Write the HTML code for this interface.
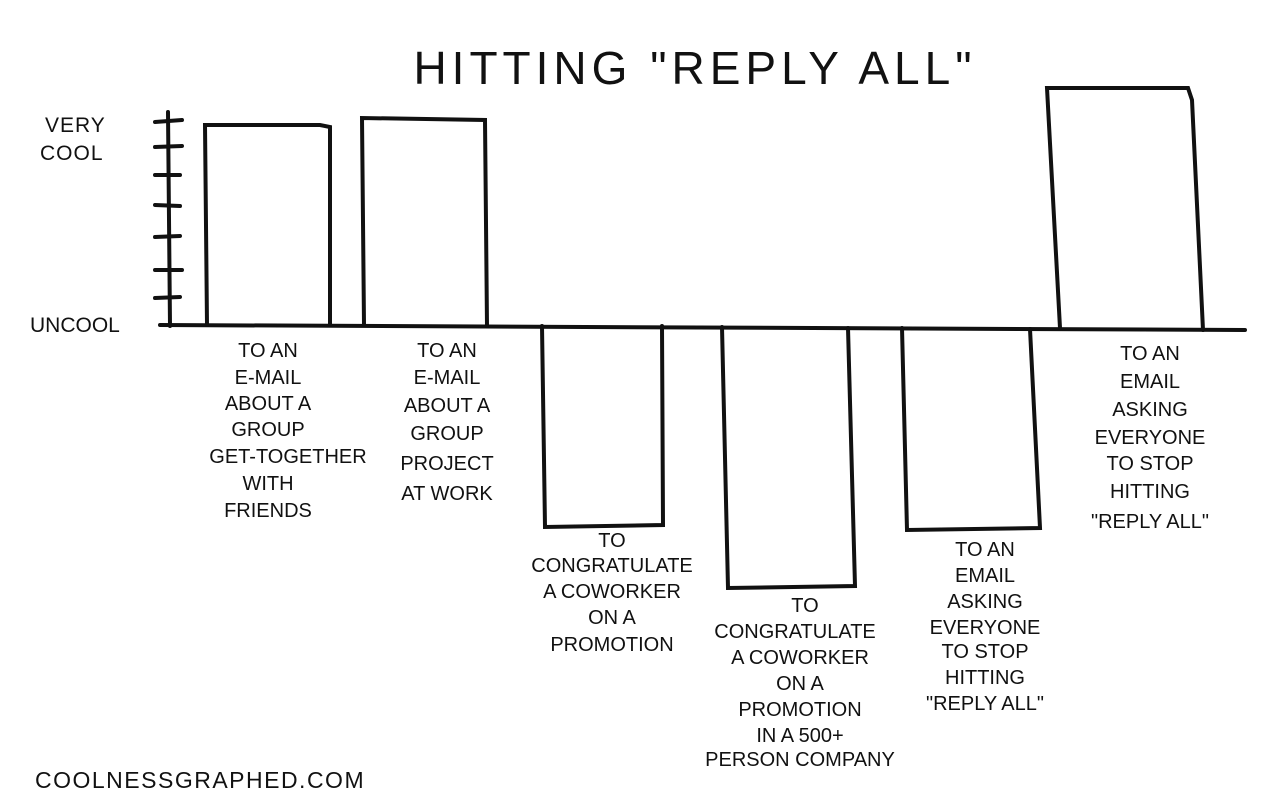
<!DOCTYPE html>
<html><head><meta charset="utf-8"><style>
html,body{margin:0;padding:0;background:#fff;}
svg{display:block;}
text{font-family:"Liberation Sans",sans-serif;fill:#111;}
.l{font-size:20px;text-anchor:middle;}
</style></head><body>
<svg width="1273" height="800" viewBox="0 0 1273 800">
<text x="695" y="84" font-size="46" text-anchor="middle" letter-spacing="5">HITTING "REPLY ALL"</text>
<g stroke="#111" stroke-width="4" fill="none" stroke-linecap="round">
<line x1="168" y1="112" x2="170" y2="326"/>
<line x1="160" y1="325" x2="1245" y2="330"/>
<line x1="155" y1="122" x2="182" y2="120"/>
<line x1="155" y1="147" x2="182" y2="146"/>
<line x1="155" y1="175" x2="180" y2="175"/>
<line x1="155" y1="205" x2="180" y2="206"/>
<line x1="155" y1="237" x2="180" y2="236"/>
<line x1="155" y1="270" x2="182" y2="270"/>
<line x1="155" y1="298" x2="180" y2="297"/>
<path d="M207 325 L205 125 L320 125 L330 127 L330 325"/>
<path d="M364 325 L362 118 L485 120 L487 326"/>
<path d="M542 326 L545 527 L663 525 L662 326"/>
<path d="M722 327 L728 588 L855 586 L848 328"/>
<path d="M902 328 L907 530 L1040 528 L1030 329"/>
<path d="M1060 328 L1047 88 L1188 88 L1192 100 L1203 330"/>
</g>
<text x="45" y="132" font-size="21" letter-spacing="1">VERY</text>
<text x="40" y="160" font-size="21" letter-spacing="1">COOL</text>
<text x="30" y="332" font-size="21">UNCOOL</text>
<g class="l">
<text class="l" x="268" y="357">TO AN</text>
<text class="l" x="268" y="384">E-MAIL</text>
<text class="l" x="268" y="410">ABOUT A</text>
<text class="l" x="268" y="436">GROUP</text>
<text class="l" x="288" y="463">GET-TOGETHER</text>
<text class="l" x="268" y="490">WITH</text>
<text class="l" x="268" y="517">FRIENDS</text>

<text class="l" x="447" y="357">TO AN</text>
<text class="l" x="447" y="384">E-MAIL</text>
<text class="l" x="447" y="412">ABOUT A</text>
<text class="l" x="447" y="440">GROUP</text>
<text class="l" x="447" y="470">PROJECT</text>
<text class="l" x="447" y="500">AT WORK</text>

<text class="l" x="612" y="547">TO</text>
<text class="l" x="612" y="572">CONGRATULATE</text>
<text class="l" x="612" y="598">A COWORKER</text>
<text class="l" x="612" y="624">ON A</text>
<text class="l" x="612" y="651">PROMOTION</text>

<text class="l" x="805" y="612">TO</text>
<text class="l" x="795" y="638">CONGRATULATE</text>
<text class="l" x="800" y="664">A COWORKER</text>
<text class="l" x="800" y="690">ON A</text>
<text class="l" x="800" y="716">PROMOTION</text>
<text class="l" x="800" y="742">IN A 500+</text>
<text class="l" x="800" y="766">PERSON COMPANY</text>

<text class="l" x="985" y="556">TO AN</text>
<text class="l" x="985" y="582">EMAIL</text>
<text class="l" x="985" y="608">ASKING</text>
<text class="l" x="985" y="634">EVERYONE</text>
<text class="l" x="985" y="658">TO STOP</text>
<text class="l" x="985" y="684">HITTING</text>
<text class="l" x="985" y="710">"REPLY ALL"</text>

<text class="l" x="1150" y="360">TO AN</text>
<text class="l" x="1150" y="388">EMAIL</text>
<text class="l" x="1150" y="416">ASKING</text>
<text class="l" x="1150" y="444">EVERYONE</text>
<text class="l" x="1150" y="470">TO STOP</text>
<text class="l" x="1150" y="498">HITTING</text>
<text class="l" x="1150" y="528">"REPLY ALL"</text>
</g>
<text x="35" y="788" font-size="23" letter-spacing="1.5">COOLNESSGRAPHED.COM</text>
</svg>
</body></html>
